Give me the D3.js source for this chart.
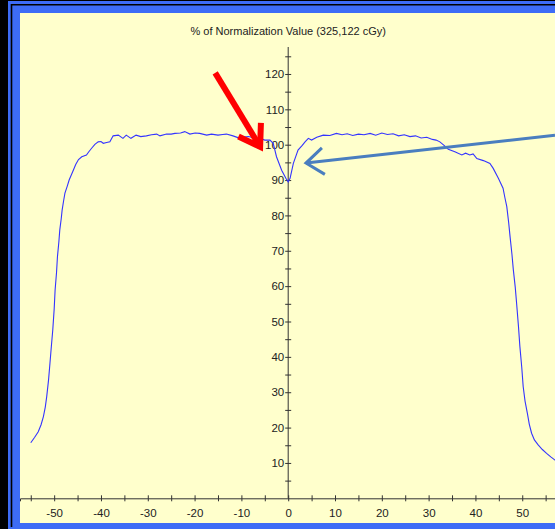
<!DOCTYPE html>
<html><head><meta charset="utf-8">
<script src="https://cdn.jsdelivr.net/npm/d3@7"></script>
<style>html,body{margin:0;padding:0;background:#000;overflow:hidden}</style>
</head><body>
<svg id="c" width="555" height="529"></svg>
<script>
// ---- data ----
const title = "% of Normalization Value (325,122 cGy)";
const posX = [-55.0,-54.2,-53.4,-52.8,-52.3,-51.9,-51.6,-51.2,-50.9,-50.6,-50.3,-50.0,-49.8,-49.5,-49.3,-49.0,-48.8,-48.5,-48.3,-48.0,-47.7,-47.2,-46.8,-46.0,-45.4,-44.8,-44.1,-43.1,-42.6,-42.0,-41.3,-40.6,-40.0,-39.5,-38.8,-38.1,-37.4,-36.3,-35.3,-34.6,-33.6,-32.5,-31.5,-30.3,-29.2,-28.1,-27.4,-26.0,-25.0,-24.2,-23.0,-22.1,-21.0,-19.9,-18.9,-17.4,-16.4,-15.0,-14.0,-13.2,-11.8,-10.3,-9.4,-8.5,-7.2,-6.0,-5.0,-3.9,-3.2,-2.5,-1.4,-0.5,0.0,0.4,1.1,2.1,3.0,3.6,4.3,5.0,6.1,7.5,8.9,10.3,11.5,12.6,13.8,15.0,16.2,17.5,18.7,20.0,21.2,22.4,23.6,24.8,26.0,27.2,28.4,29.6,30.8,31.6,32.4,33.3,34.2,35.6,37.1,37.9,38.8,39.5,40.3,41.7,43.1,43.8,44.9,45.9,46.3,46.7,47.1,47.4,47.8,48.1,48.5,48.8,49.2,49.5,49.9,50.2,50.6,51.1,51.5,52.0,52.6,53.4,54.3,55.2,56.1,57.0,57.5];
const dose = [15.7,17.2,18.8,20.8,23.1,25.8,28.7,33.5,38.2,43.0,47.6,53.5,58.9,63.8,68.3,72.5,75.9,79.0,81.5,84.0,86.3,88.3,90.0,92.5,94.4,95.8,96.6,97.1,98.0,99.0,100.1,100.8,100.9,100.4,100.6,100.8,102.5,102.7,101.8,102.7,101.8,102.7,102.3,102.5,102.8,103.0,102.5,103.0,103.0,103.2,103.3,103.7,103.0,103.3,103.2,102.7,103.0,102.7,102.9,103.0,102.5,101.8,102.2,102.3,101.9,101.8,101.3,101.3,100.4,96.6,92.8,90.5,89.5,90.5,94.7,98.5,99.8,100.8,101.8,101.3,102.1,102.7,102.6,103.2,102.8,103.1,102.6,103.0,102.8,103.2,102.7,103.3,102.9,103.1,102.5,102.8,102.3,102.5,101.9,102.1,101.5,101.3,100.8,99.8,98.7,98.0,97.1,97.6,97.1,97.4,96.1,95.5,94.7,93.3,90.5,87.7,85.0,82.5,78.0,74.0,69.0,64.6,59.8,55.1,48.5,42.9,37.0,31.6,27.5,24.0,21.0,18.4,16.5,15.1,13.8,12.7,11.7,10.8,10.4];
const xTicks = d3.range(-55, 56, 5);
const yTicks = d3.range(5, 126, 5);
// annotation arrows in data units: [tailX, tailY, tipX, tipY]
const redArrow = [-15.6, 120.3, -6.0, 99.4];
const blueArrow = [57.0, 102.7, 3.8, 94.8];

// ---- drawing ----
const svg = d3.select("#c");
const W = 555, H = 529;
svg.append("rect").attr("width", W).attr("height", H).attr("fill", "#000");
svg.append("rect").attr("x", 8).attr("y", 1).attr("width", W - 8).attr("height", H - 1).attr("fill", "#3d6cf6");
svg.append("path").attr("d", "M11.5,527V4.8H555").attr("fill", "none").attr("stroke", "#000").attr("stroke-width", 1.6);
svg.append("rect").attr("x", 20).attr("y", 13).attr("width", W - 20).attr("height", 510).attr("fill", "#ffffcc");

const x = d3.scaleLinear().domain([-57.3, 57.0]).range([20, 555]);
const y = d3.scaleLinear().domain([0, 125]).range([498.3, 56.3]);

const font = "'Liberation Sans', Arial, sans-serif";
const axisCol = "#333";
const lbl = d => d % 10 === 0 ? String(d) : "";

// x axis
const gx = svg.append("g").attr("transform", `translate(0,${y(0)})`)
  .call(d3.axisBottom(x).tickValues(xTicks).tickSizeOuter(0).tickSize(3).tickFormat(lbl));
gx.select(".domain").attr("stroke", axisCol);
gx.selectAll(".tick line").attr("y1", -3).attr("y2", 3).attr("stroke", axisCol);
gx.selectAll(".tick text").attr("y", 11).attr("dy", "0.71em").attr("fill", "#222")
  .style("font-family", font).style("font-size", "11.5px");

// y axis
const gy = svg.append("g").attr("transform", `translate(${x(0)},0)`)
  .call(d3.axisLeft(y).tickValues(yTicks).tickSizeOuter(0).tickSize(3).tickFormat(lbl));
gy.select(".domain").remove();
gy.append("line").attr("y1", 47).attr("y2", y(0)).attr("stroke", axisCol);
gy.selectAll(".tick line").attr("x1", -3).attr("x2", 3).attr("stroke", axisCol);
gy.selectAll(".tick text").attr("x", -4).attr("fill", "#222")
  .style("font-family", font).style("font-size", "11.5px");

// title
svg.append("text").attr("x", x(0)).attr("y", 34.5).attr("text-anchor", "middle")
  .attr("fill", "#222").style("font-family", font).style("font-size", "11px").text(title);

// profile curve
const pts = posX.map((p, i) => [p, dose[i]]);
svg.append("path").datum(pts)
  .attr("d", d3.line().x(d => x(d[0])).y(d => y(d[1])))
  .attr("fill", "none").attr("stroke", "#3434ff").attr("stroke-width", 1.1);

// arrows
function arrow(a, color, width, head, spread) {
  const x1 = x(a[0]), y1 = y(a[1]), x2 = x(a[2]), y2 = y(a[3]);
  const ang = Math.atan2(y1 - y2, x1 - x2);
  const w1 = [x2 + head * Math.cos(ang + spread), y2 + head * Math.sin(ang + spread)];
  const w2 = [x2 + head * Math.cos(ang - spread), y2 + head * Math.sin(ang - spread)];
  svg.append("line").attr("x1", x1).attr("y1", y1).attr("x2", x2).attr("y2", y2)
    .attr("stroke", color).attr("stroke-width", width);
  svg.append("path").attr("d", `M${w1}L${x2},${y2}L${w2}`)
    .attr("fill", "none").attr("stroke", color).attr("stroke-width", width)
    .attr("stroke-linejoin", "miter");
}
arrow(redArrow, "#ff0000", 6, 24, 0.58);
arrow(blueArrow, "#4a7ebf", 3, 22, 0.65);
</script>
</body></html>
